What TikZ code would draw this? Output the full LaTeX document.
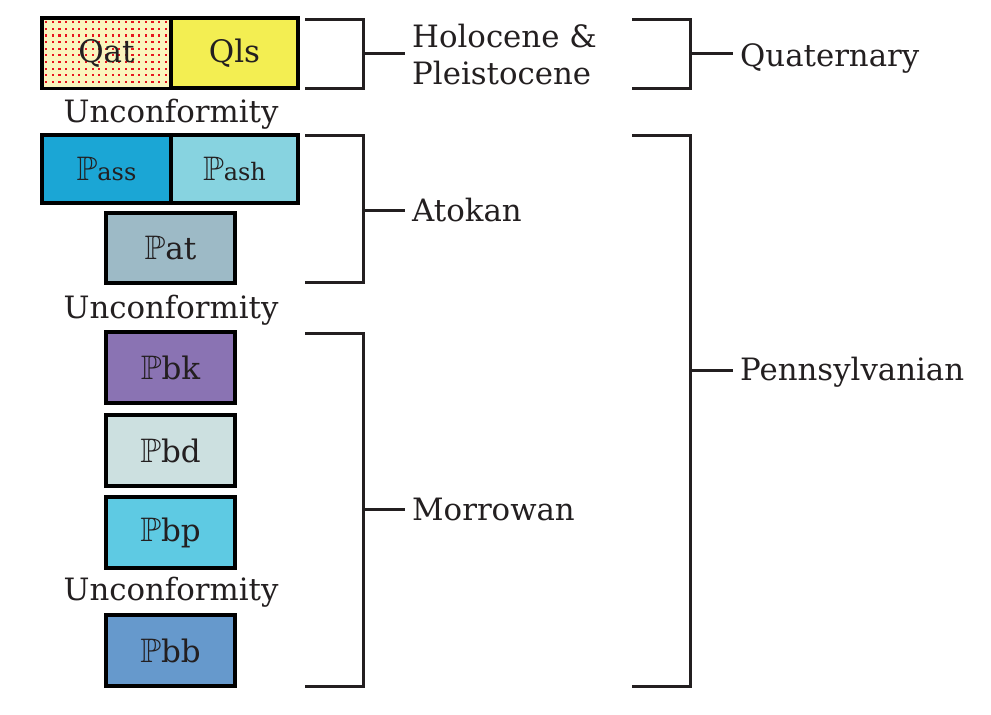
\documentclass[tikz,border=0pt]{standalone}
\usepackage{fontspec}
\usepackage{amssymb}
\setmainfont{DejaVu Serif}
\definecolor{ink}{HTML}{231F20}
\definecolor{qatc}{HTML}{FAF5BE}
\definecolor{dotc}{HTML}{E8141E}
\definecolor{qlsc}{HTML}{F3EE52}
\definecolor{passc}{HTML}{1BA6D5}
\definecolor{pashc}{HTML}{87D3E0}
\definecolor{patc}{HTML}{9DBAC6}
\definecolor{pbkc}{HTML}{8A73B3}
\definecolor{pbdc}{HTML}{CCE0E0}
\definecolor{pbpc}{HTML}{5ECAE3}
\definecolor{pbbc}{HTML}{6699CC}
\newcommand{\PP}{{\fontsize{34}{36}\selectfont$\mathbb{P}$}}
\tikzset{
  unitbox/.style={draw=black, line width=3.4pt, inner sep=0pt, text=ink,
    font=\fontsize{31}{36}\selectfont},
  lab/.style={text=ink, font=\fontsize{30.8}{37}\selectfont, inner xsep=7pt, inner ysep=0pt},
  brk/.style={draw=ink, line width=3pt},
}
\begin{document}
\begin{tikzpicture}[x=1pt,y=-1pt]
\useasboundingbox (0,0) rectangle (991,715);
% Quaternary units
\node[fill=qatc, minimum width=129pt, minimum height=70pt, inner sep=0pt] (qat) at (106.5,53) {};
\begin{scope}
\clip (43.5,19.5) rectangle (169.5,86.5);
\foreach \i in {0,...,19}{
  \foreach \j in {0,...,10}{
    \fill[dotc] ({46+6.65*\i-1},{22+6.65*\j-1}) rectangle ++(2.2,2.2);
  }
}
\end{scope}
\draw[black, line width=3.4pt] (qat.north west) rectangle (qat.south east);
\node[text=ink, font=\fontsize{31}{36}\selectfont] at (qat.center) {Qat};
\node[unitbox, fill=qlsc, minimum width=127pt, minimum height=70pt] (qls) at (234.5,53) {Qls};
\node[lab, anchor=base] (unc1) at (171,122) {Unconformity};
% Atokan units
\node[unitbox, fill=passc, minimum width=129pt, minimum height=68pt] (pass) at (106.5,169) {\PP{\fontsize{24}{28}\selectfont ass}};
\node[unitbox, fill=pashc, minimum width=127pt, minimum height=68pt] (pash) at (234.5,169) {\PP{\fontsize{24}{28}\selectfont ash}};
\node[unitbox, fill=patc, minimum width=129pt, minimum height=70pt] (pat) at (170.5,248) {\PP at};
\node[lab, anchor=base] (unc2) at (171,318) {Unconformity};
% Morrowan units
\node[unitbox, fill=pbkc, minimum width=129pt, minimum height=71pt] (pbk) at (170.5,367.5) {\PP bk};
\node[unitbox, fill=pbdc, minimum width=129pt, minimum height=71pt] (pbd) at (170.5,450.5) {\PP bd};
\node[unitbox, fill=pbpc, minimum width=129pt, minimum height=71pt] (pbp) at (170.5,532.5) {\PP bp};
\node[lab, anchor=base] (unc3) at (171,600) {Unconformity};
\node[unitbox, fill=pbbc, minimum width=129pt, minimum height=71pt] (pbb) at (170.5,650.5) {\PP bb};
% labels
\node[lab, anchor=base west, align=left] (holo) at (405,84) {Holocene \&\\Pleistocene};
\node[lab, anchor=base west] (atok) at (405,221) {Atokan};
\node[lab, anchor=base west] (morr) at (405,520) {Morrowan};
\node[lab, anchor=base west] (quat) at (733,66) {Quaternary};
\node[lab, anchor=base west] (penn) at (733,380) {Pennsylvanian};
% bracket coordinates
\coordinate (b1t) at (305,19); \coordinate (b1b) at (305,88); \coordinate (b1m) at (363,53);
\coordinate (b2t) at (305,135); \coordinate (b2b) at (305,282); \coordinate (b2m) at (363,210);
\coordinate (b3t) at (305,333); \coordinate (b3b) at (305,686); \coordinate (b3m) at (363,509);
\coordinate (b4t) at (632,19); \coordinate (b4b) at (632,88); \coordinate (b4m) at (690,53);
\coordinate (b5t) at (632,135); \coordinate (b5b) at (632,686); \coordinate (b5m) at (690,370);
% brackets
\draw[brk] (b1t) -- (b1t -| b1m) -- (b1b -| b1m) -- (b1b);
\draw[brk] (b1m) -- (b1m -| holo.west);
\draw[brk] (b2t) -- (b2t -| b2m) -- (b2b -| b2m) -- (b2b);
\draw[brk] (b2m) -- (b2m -| atok.west);
\draw[brk] (b3t) -- (b3t -| b3m) -- (b3b -| b3m) -- (b3b);
\draw[brk] (b3m) -- (b3m -| morr.west);
\draw[brk] (b4t) -- (b4t -| b4m) -- (b4b -| b4m) -- (b4b);
\draw[brk] (b4m) -- (b4m -| quat.west);
\draw[brk] (b5t) -- (b5t -| b5m) -- (b5b -| b5m) -- (b5b);
\draw[brk] (b5m) -- (b5m -| penn.west);
\end{tikzpicture}
\end{document}
